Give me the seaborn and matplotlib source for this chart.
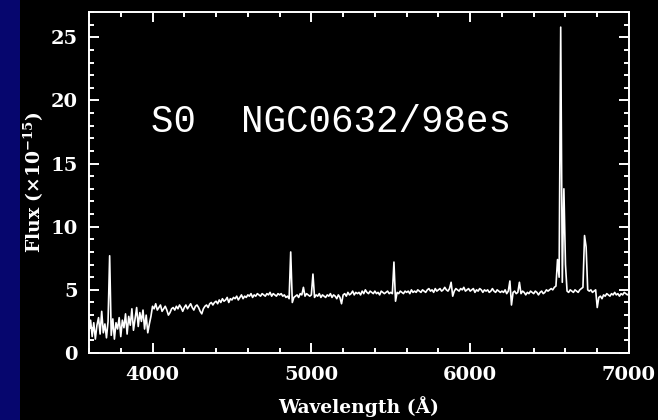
import numpy as np
import pandas as pd
import matplotlib
matplotlib.use("Agg")
import matplotlib.pyplot as plt
from matplotlib.ticker import MultipleLocator
from matplotlib.patches import Rectangle
import seaborn as sns

# ---- data ----
wave_start, wave_stop, wave_step = 3600, 7000, 10
wavelength = np.arange(wave_start, wave_stop + 1, wave_step)  # sampling grid (Å)

flux = [
    # 3600-3690
    1.8, 2.6, 1.3, 2.4, 1.1, 2.2, 2.8, 1.5, 3.3, 1.6,
    # 3700-3790
    2.3, 1.2, 2.5, 7.7, 1.4, 2.7, 1.1, 2.4, 1.9, 2.8,
    # 3800-3890
    1.3, 2.6, 2.0, 3.1, 1.5, 2.9, 2.2, 3.5, 1.8, 2.7,
    # 3900-3990
    3.6, 2.1, 3.2, 2.5, 3.4, 1.9, 3.0, 1.6, 2.3, 2.9,
    # 4000-4090
    3.7, 3.5, 3.9, 3.4, 3.6, 3.8, 3.3, 3.5, 3.7, 3.4,
    # 4100-4190
    3.0, 3.2, 3.5, 3.6, 3.4, 3.7, 3.5, 3.8, 3.6, 3.3,
    # 4200-4290
    3.6, 3.8, 3.5, 3.7, 3.9, 3.6, 3.4, 3.7, 3.8, 3.6,
    # 4300-4390
    3.3, 3.1, 3.5, 3.7, 3.8, 3.6, 3.9, 4.0, 3.8, 4.0,
    # 4400-4490
    4.1, 3.9, 4.2, 4.0, 4.3, 4.1, 4.2, 4.4, 4.0, 4.3,
    # 4500-4590
    4.2, 4.4, 4.3, 4.5, 4.2, 4.4, 4.6, 4.3, 4.5, 4.4,
    # 4600-4690
    4.6, 4.5, 4.7, 4.4, 4.6, 4.5, 4.7, 4.6, 4.5, 4.7,
    # 4700-4790
    4.6, 4.5, 4.7, 4.6, 4.8, 4.5, 4.7, 4.6, 4.5, 4.7,
    # 4800-4890
    4.6, 4.7, 4.5, 4.6, 4.4, 4.5, 4.3, 8.0, 4.0, 4.4,
    # 4900-4990
    4.5, 4.6, 4.4, 4.7, 4.6, 5.2, 4.5, 4.7, 4.6, 4.5,
    # 5000-5090
    4.6, 6.25, 4.4, 4.6, 4.5, 4.7, 4.4, 4.6, 4.5, 4.4,
    # 5100-5190
    4.6, 4.5, 4.7, 4.4, 4.6, 4.5, 4.3, 4.6, 4.4, 3.9,
    # 5200-5290
    4.6, 4.7, 4.5, 4.8, 4.6, 4.7, 4.9, 4.6, 4.8, 4.7,
    # 5300-5390
    4.8, 4.6, 4.9, 4.7, 5.0, 4.8, 4.7, 4.9, 4.8, 4.7,
    # 5400-5490
    4.9, 4.7, 4.8, 4.6, 4.9, 4.8, 4.7, 4.8, 4.9, 4.7,
    # 5500-5590
    4.8, 4.7, 7.2, 4.1, 4.8, 4.7, 4.9, 4.8, 4.7, 4.9,
    # 5600-5690
    4.8, 4.9, 4.7, 5.0, 4.8, 4.9, 4.8, 5.0, 4.9, 4.8,
    # 5700-5790
    5.0, 4.9, 4.8, 5.0, 5.1, 4.9, 5.0, 4.8, 5.1, 4.9,
    # 5800-5890
    5.0, 5.1, 4.9, 5.0, 5.2, 5.0, 4.9, 5.1, 5.6, 4.5,
    # 5900-5990
    4.9, 5.1, 5.0, 4.9, 5.1, 5.0, 5.2, 4.9, 5.0, 5.1,
    # 6000-6090
    4.9, 5.0, 5.1, 4.8, 5.0, 4.9, 5.1, 5.0, 4.8, 5.0,
    # 6100-6190
    4.9, 5.0, 4.8, 4.9, 5.1, 4.9, 4.8, 5.0, 4.9, 4.8,
    # 6200-6290
    4.9, 4.8, 5.0, 4.7, 4.9, 5.7, 3.8, 4.8, 4.9, 4.7,
    # 6300-6390
    4.8, 5.6, 4.7, 4.9, 4.8, 4.6, 4.8, 4.7, 4.9, 4.8,
    # 6400-6490
    4.7, 4.9, 4.8, 4.6, 4.8, 4.9, 4.7, 4.8, 5.0, 4.9,
    # 6500-6590
    5.0, 5.1, 5.0, 5.2, 5.3, 7.4, 6.0, 25.8, 5.6, 13.0,
    # 6600-6690
    7.0, 4.9, 4.8, 5.0, 4.9, 4.8, 5.0, 4.9, 4.8, 5.0,
    # 6700-6790
    5.1, 5.2, 9.3, 8.4, 5.0, 4.9, 5.0, 4.8, 4.9, 5.0,
    # 6800-6890
    3.6, 4.4, 4.5, 4.3, 4.6, 4.5, 4.7, 4.6, 4.5, 4.7,
    # 6900-6990
    4.6, 4.8, 4.6, 4.7, 4.5, 4.7, 4.6, 4.8, 4.7, 4.6,
    # 7000
    4.7,
]

x_ticks = [4000, 5000, 6000, 7000]
y_ticks = [0, 5, 10, 15, 20, 25]
title_text = "S0  NGC0632/98es"
x_label = "Wavelength (Å)"
y_label = r"Flux (×10$^{-15}$)"

df = pd.DataFrame({"wavelength": wavelength, "flux": flux})

# ---- style ----
sns.set_theme(style="ticks")
plt.rcParams["font.family"] = ["DejaVu Serif", "DejaVu Sans"]
plt.rcParams["mathtext.fontset"] = "dejavuserif"
plt.rcParams["mathtext.default"] = "bf"

fig = plt.figure(figsize=(6.58, 4.20), dpi=100, facecolor="black")
fig.patches.append(Rectangle((0, 0), 20 / 658, 1, transform=fig.transFigure,
                             facecolor="#06066e", edgecolor="none", zorder=0))

ax = fig.add_axes([89 / 658, 1 - 353 / 420, 540 / 658, 341 / 420])
ax.set_facecolor("black")

sns.lineplot(data=df, x="wavelength", y="flux", ax=ax, color="white",
             linewidth=1.2, estimator=None, sort=False)

ax.set_xlim(3600, 7000)
ax.set_ylim(0, 27)
ax.set_xticks(x_ticks)
ax.set_yticks(y_ticks)
ax.xaxis.set_minor_locator(MultipleLocator(200))
ax.yaxis.set_minor_locator(MultipleLocator(1))

for s in ax.spines.values():
    s.set_color("white")
    s.set_linewidth(1.4)
    s.set_visible(True)

ax.tick_params(which="both", direction="in", top=True, right=True,
               color="white", width=1.4)
ax.tick_params(which="major", length=7.2)
ax.tick_params(which="minor", length=3.6)
ax.tick_params(axis="x", which="major", pad=9, labelsize=14, labelcolor="white")
ax.tick_params(axis="y", which="major", pad=8, labelsize=14, labelcolor="white")
for lab in ax.get_xticklabels() + ax.get_yticklabels():
    lab.set_fontweight("bold")

ax.set_xlabel(x_label, color="white", fontsize=13.5, fontweight="bold")
ax.set_ylabel(y_label, color="white", fontsize=13.5, fontweight="bold")
ax.xaxis.set_label_coords(0.5, -0.125)
ax.yaxis.set_label_coords(-0.08, 0.5)

ax.text(0.115, 0.648, title_text, transform=ax.transAxes, color="white",
        fontsize=27, family="Liberation Mono", va="baseline", ha="left")

fig.savefig("out.png", dpi=100, facecolor="black")
